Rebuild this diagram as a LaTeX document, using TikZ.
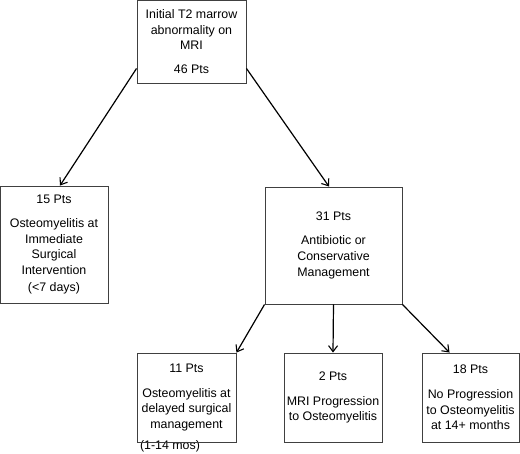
\documentclass[tikz,border=0pt]{standalone}
\usepackage{fontspec}
\setmainfont{Liberation Sans}
\usetikzlibrary{arrows.meta}
\begin{document}
\begin{tikzpicture}[x=1pt,y=-1pt,
  box/.style={draw=black!75,line width=0.9pt,align=center,inner sep=0pt,
    font=\fontsize{12.4}{15.8}\selectfont},
  arr/.style={draw=black,line width=1.2pt,-{Straight Barb[length=6pt,width=9pt,line width=1.1pt]}},
  lbl/.style={inner sep=0pt,font=\fontsize{12.4}{15.8}\selectfont}]
\useasboundingbox (0,0) rectangle (520,453);
\node[lbl] (mos) at (170,446) {(1-14 mos)};
\node[box,minimum width=109pt,minimum height=83pt] (top) at (191.5,41.5)
  {Initial T2 marrow\\abnormality on\\MRI\\[8pt]46 Pts};
\node[box,minimum width=108pt,minimum height=117pt] (left) at (54,244.5)
  {15 Pts\\[8pt]Osteomyelitis at\\Immediate\\Surgical\\Intervention\\[1pt](<7 days)};
\node[box,minimum width=137pt,minimum height=117pt] (mid) at (333.5,245.5)
  {31 Pts\\[8pt]Antibiotic or\\Conservative\\Management};
\node[box,minimum width=99pt,minimum height=89pt] (b1) at (186.5,397.5)
  {11 Pts\\[9pt]Osteomyelitis at\\delayed surgical\\management};
\node[box,minimum width=98pt,minimum height=89pt] (b2) at (333,397.5)
  {2 Pts\\[9pt]MRI Progression\\to Osteomyelitis};
\node[box,minimum width=97pt,minimum height=89pt] (b3) at (470.5,397.5)
  {18 Pts\\[9pt]No Progression\\to Osteomyelitis\\at 14+ months};
\draw[arr] ([yshift=15pt]top.south west) -- ([xshift=6pt]left.north);
\draw[arr] ([yshift=15pt]top.south east) -- ([xshift=-4.5pt]mid.north);
\draw[arr] (mid.south west) -- (b1.north east);
\draw[arr] (mid.south) -- (b2.north);
\draw[arr] (mid.south east) -- ([xshift=28pt]b3.north west);
\end{tikzpicture}
\end{document}
